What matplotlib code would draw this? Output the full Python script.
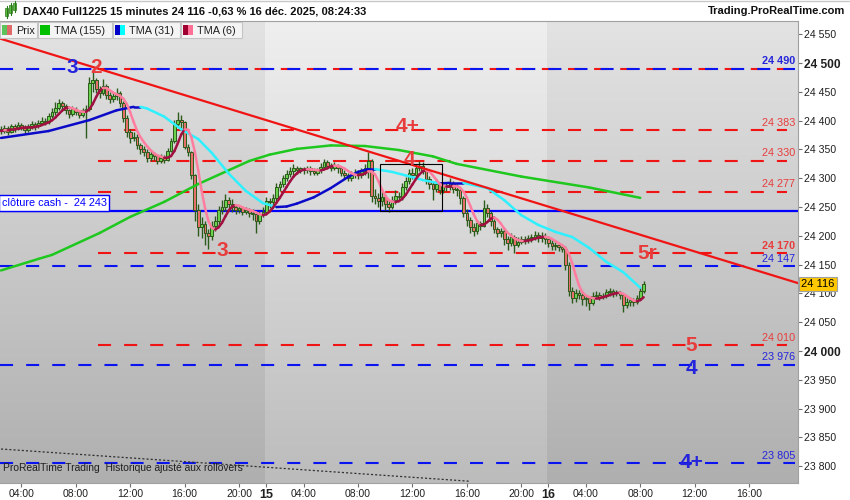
import numpy as np
import pandas as pd
import matplotlib
matplotlib.use("Agg")
import matplotlib.pyplot as plt
import matplotlib.transforms as mtransforms
from matplotlib.collections import LineCollection
from matplotlib.patches import Rectangle
from matplotlib.colors import LinearSegmentedColormap

plt.rcParams['font.family'] = ['Liberation Sans', 'DejaVu Sans']
plt.rcParams['lines.scale_dashes'] = False


""" Data """

# 15 minute bars, bar 0 = 12 dec 02:30
closes = [24382, 24388, 24380, 24390, 24386, 24392, 24388, 24384, 24390, 24394,
          24390, 24396, 24400, 24398, 24408, 24415, 24422, 24430, 24426, 24418,
          24412, 24420, 24415, 24410, 24418, 24420, 24465, 24470, 24455, 24448,
          24460, 24445, 24438, 24442, 24448, 24430, 24405, 24380, 24370, 24372,
          24358, 24350, 24345, 24335, 24342, 24338, 24330, 24336, 24332, 24348,
          24365, 24395, 24402, 24398, 24355, 24345, 24305, 24245, 24215, 24220,
          24205, 24200, 24218, 24225, 24245, 24250, 24262, 24255, 24250, 24245,
          24248, 24242, 24245, 24240, 24238, 24225, 24238, 24242, 24260, 24258,
          24265, 24285, 24290, 24300, 24308, 24312, 24318, 24315, 24316, 24314,
          24318, 24312, 24310, 24314, 24320, 24328, 24322, 24318, 24322, 24318,
          24310, 24305, 24300, 24306, 24310, 24305, 24312, 24318, 24330, 24270,
          24265, 24260, 24268, 24255, 24250, 24262, 24270, 24268, 24285, 24295,
          24310, 24305, 24318, 24322, 24315, 24298, 24290, 24282, 24290, 24280,
          24288, 24285, 24292, 24282, 24280, 24265, 24240, 24228, 24215, 24208,
          24222, 24218, 24248, 24240, 24225, 24212, 24205, 24208, 24195, 24188,
          24198, 24185, 24190, 24195, 24192, 24196, 24198, 24202, 24196, 24200,
          24195, 24188, 24182, 24184, 24180, 24178, 24150, 24105, 24092, 24100,
          24098, 24090, 24092, 24084, 24095, 24098, 24094, 24096, 24102, 24104,
          24100, 24102, 24098, 24080, 24085, 24088, 24086, 24092, 24105, 24116]
highs = [24390, 24392, 24391, 24395, 24394, 24398, 24396, 24392, 24394, 24400,
         24398, 24402, 24406, 24405, 24414, 24422, 24432, 24438, 24434, 24429,
         24421, 24425, 24424, 24418, 24422, 24428, 24475, 24485, 24474, 24460,
         24472, 24464, 24450, 24450, 24456, 24452, 24434, 24410, 24386, 24380,
         24376, 24362, 24356, 24350, 24348, 24346, 24342, 24342, 24340, 24352,
         24370, 24402, 24415, 24410, 24400, 24360, 24348, 24308, 24255, 24232,
         24226, 24212, 24226, 24234, 24252, 24262, 24272, 24268, 24264, 24256,
         24254, 24252, 24250, 24248, 24246, 24242, 24244, 24250, 24268, 24266,
         24272, 24292, 24296, 24306, 24314, 24320, 24325, 24322, 24320, 24320,
         24322, 24321, 24318, 24318, 24326, 24334, 24332, 24326, 24328, 24325,
         24320, 24314, 24310, 24312, 24316, 24314, 24318, 24324, 24345, 24334,
         24282, 24275, 24278, 24272, 24262, 24270, 24280, 24276, 24292, 24302,
         24316, 24318, 24325, 24330, 24328, 24318, 24304, 24295, 24298, 24294,
         24294, 24292, 24300, 24296, 24290, 24284, 24270, 24246, 24232, 24222,
         24228, 24226, 24262, 24256, 24244, 24230, 24216, 24214, 24212, 24200,
         24205, 24202, 24198, 24200, 24199, 24202, 24204, 24208, 24206, 24206,
         24205, 24200, 24192, 24190, 24188, 24185, 24182, 24155, 24112, 24108,
         24106, 24102, 24098, 24096, 24102, 24104, 24102, 24100, 24108, 24110,
         24108, 24106, 24104, 24100, 24092, 24094, 24092, 24098, 24112, 24122]
lows = [24376, 24378, 24375, 24378, 24381, 24383, 24384, 24376, 24380, 24386,
        24384, 24387, 24392, 24393, 24395, 24404, 24410, 24418, 24418, 24412,
        24405, 24408, 24410, 24404, 24406, 24370, 24416, 24450, 24448, 24440,
        24444, 24438, 24430, 24432, 24436, 24424, 24398, 24372, 24362, 24364,
        24350, 24342, 24338, 24328, 24330, 24332, 24325, 24326, 24326, 24330,
        24345, 24362, 24390, 24385, 24350, 24338, 24298, 24225, 24200, 24196,
        24185, 24178, 24192, 24208, 24218, 24238, 24244, 24246, 24242, 24238,
        24240, 24236, 24238, 24232, 24228, 24205, 24220, 24232, 24238, 24248,
        24250, 24260, 24278, 24284, 24295, 24302, 24306, 24308, 24310, 24308,
        24310, 24306, 24305, 24306, 24310, 24316, 24316, 24312, 24314, 24310,
        24304, 24298, 24295, 24296, 24300, 24298, 24300, 24306, 24300, 24258,
        24255, 24250, 24252, 24245, 24242, 24246, 24256, 24260, 24262, 24280,
        24290, 24298, 24300, 24312, 24308, 24290, 24282, 24262, 24276, 24272,
        24274, 24278, 24280, 24275, 24270, 24255, 24232, 24218, 24205, 24200,
        24204, 24210, 24215, 24232, 24218, 24205, 24198, 24198, 24184, 24176,
        24182, 24170, 24180, 24186, 24186, 24188, 24190, 24192, 24190, 24190,
        24186, 24180, 24176, 24176, 24174, 24172, 24140, 24095, 24084, 24086,
        24090, 24080, 24078, 24072, 24080, 24090, 24088, 24090, 24092, 24096,
        24094, 24095, 24090, 24068, 24074, 24078, 24078, 24082, 24088, 24100]
first_open = 24385

# moving averages (bar index, value)
tma155_bar = [0, 11, 15, 29, 38, 48, 58, 67, 73, 79, 87, 97, 107, 117, 127, 134, 153, 173, 188]
tma155_val = [24140, 24160, 24167, 24205, 24233, 24259, 24290, 24314, 24330, 24341,
              24351, 24357, 24356, 24349, 24338, 24325, 24303, 24284, 24266]
tma31_bar = [0, 14, 26, 34, 39, 41, 43, 48, 53, 58, 62, 67, 72, 77, 81, 84, 87, 92,
             97, 102, 105, 108, 110, 115, 119, 124, 129, 132, 136, 143, 148, 153,
             158, 163, 168, 173, 178, 183, 188]
tma31_val = [24370, 24382, 24401, 24418, 24424, 24424, 24421, 24407, 24385, 24368,
             24344, 24308, 24278, 24257, 24250, 24251, 24256, 24267, 24283, 24302,
             24311, 24316, 24316, 24311, 24305, 24297, 24291, 24292, 24292, 24283,
             24262, 24236, 24219, 24207, 24198, 24179, 24155, 24137, 24110]

red_levels = [24490, 24383, 24330, 24277, 24170, 24010]
red_labels = ["", "24 383", "24 330", "24 277", "24 170", "24 010"]
blue_levels = [24490, 24147, 23976, 23805]
blue_labels = ["24 490", "24 147", "23 976", "23 805"]
bold_labels = ["24 490", "24 170"]
cash_close = 24243
last_price = 24116

trend_bar = [0, 234.4]
trend_val = [24542, 24118]
dotted_bar = [0, 138]
dotted_val = [23830, 23774]
box_bar = [111.5, 129.7]
box_val = [24243, 24325]

wave_text = ["3", "2", "3", "4+", "4", "5r", "5", "4", "4+"]
wave_bar = [21, 28, 65, 119.5, 120, 190, 203, 203, 203]
wave_val = [24493, 24493, 24174, 24389, 24332, 24170, 24010, 23969, 23806]
wave_color = ["blue", "red", "red", "red", "red", "red", "red", "blue", "blue"]

y_ticks = [24550, 24500, 24450, 24400, 24350, 24300, 24250, 24200, 24150,
           24100, 24050, 24000, 23950, 23900, 23850, 23800]

# session 01:15-22:00 -> 83 bars a day, days 12, 15, 16 dec
day_names = ["", "15", "16"]
day_hours = [[4, 8, 12, 16, 20], [4, 8, 12, 16, 20], [4, 8, 12, 16]]


""" Helper Functions """

def bar_of(day, hour):
    return day * 83 + (hour - 1.25) * 4 - 5

def fmt(v):
    return f"{v // 1000} {v % 1000:03d}"

# draws a line whose colour depends on the direction of each segment.
def slope_line(ax, x, y, up, down, lw, z):
    pts = np.column_stack([x, y])
    segs = np.stack([pts[:-1], pts[1:]], axis=1)
    cols = [up if b >= a else down for a, b in zip(y[:-1], y[1:])]
    ax.add_collection(LineCollection(segs, colors=cols, linewidths=lw,
                                     capstyle="round", joinstyle="round", zorder=z))


""" Plot """

RED = "#f01414"
BLUE = "#0a14f0"
LBL_RED = "#e83c3c"
LBL_BLUE = "#2424dc"

fig = plt.figure(figsize=(8.5, 5), dpi=100)
fig.patch.set_facecolor("white")
ax = fig.add_axes([0, 17 / 500, 798 / 850, 462 / 500])

x_lo, x_hi = -0.3, 234.4
y_lo, y_hi = 23771, 24573

# background: one gradient per trading day
day_edges = [x_lo, 77.5, 160.5, x_hi]
day_tops = ["#e3e3e3", "#efefef", "#e3e3e3"]
day_bottoms = ["#afafaf", "#bcbcbc", "#afafaf"]
grad = np.linspace(0, 1, 256).reshape(-1, 1)
for i in range(3):
    cmap = LinearSegmentedColormap.from_list("g", [day_tops[i], day_bottoms[i]])
    ax.imshow(grad, cmap=cmap, aspect="auto", origin="upper", zorder=0,
              extent=[day_edges[i], day_edges[i + 1], y_lo, y_hi])

# horizontal levels
for lvl in red_levels:
    ax.plot([28.5, 231.2], [lvl, lvl], color=RED, lw=1.5, dashes=(9.4, 9.4), zorder=2)
for lvl in blue_levels:
    ax.plot([x_lo, 233.5], [lvl, lvl], color=BLUE, lw=1.5, dashes=(9.4, 9.4), zorder=2.1)
ax.axhline(cash_close, color="#0000ff", lw=1.6, zorder=2.2)

# candles
c = np.array(closes)
o = np.array([first_open] + closes[:-1])
idx = np.arange(len(c))
up = c >= o
wick = "#2b5a1a"
ax.vlines(idx, lows, highs, color=wick, lw=1.0, zorder=4)
ax.bar(idx, np.maximum(np.abs(c - o), 2), bottom=np.minimum(o, c), width=0.78,
       color=np.where(up, "#6ad24e", "#e8706c"), edgecolor=wick, linewidth=0.7, zorder=5)

# moving averages
slope_line(ax, tma155_bar, tma155_val, "#1ec81e", "#1ec81e", 1.8, 6)
slope_line(ax, tma31_bar, tma31_val, "#0a0ac8", "#2ef0ff", 1.8, 6.1)
tma6 = pd.Series(closes).rolling(4, min_periods=1).mean().rolling(3, min_periods=1).mean()
slope_line(ax, idx, tma6.values, "#a01040", "#ff7ea0", 1.8, 6.2)

# drawings
ax.plot(trend_bar, trend_val, color=RED, lw=1.6, zorder=7)
ax.plot(dotted_bar, dotted_val, color="#303030", lw=0.9, dashes=(1.5, 1.5), zorder=7)
ax.add_patch(Rectangle((box_bar[0], box_val[0]), box_bar[1] - box_bar[0], box_val[1] - box_val[0],
                       fill=False, ec="black", lw=0.8, zorder=7))

for t, bx, v, col in zip(wave_text, wave_bar, wave_val, wave_color):
    ax.text(bx, v, t, color=LBL_RED if col == "red" else LBL_BLUE, fontsize=15,
            fontweight="bold", ha="center", va="center", zorder=8)

# labels of the levels at the right
for lvl, lab in zip(red_levels, red_labels):
    if lab:
        ax.text(233.6, lvl + 8, lab, color=LBL_RED, fontsize=7.8, ha="right", va="baseline",
                fontweight="bold" if lab in bold_labels else "normal", zorder=8)
for lvl, lab in zip(blue_levels, blue_labels):
    ax.text(233.6, lvl + 8, lab, color=LBL_BLUE, fontsize=7.8, ha="right", va="baseline",
            fontweight="bold" if lab in bold_labels else "normal", zorder=8)

ax.text(0.2, cash_close + 14, "clôture cash -  " + fmt(cash_close), color="#0000ff", fontsize=7.8,
        ha="left", va="center", zorder=9,
        bbox=dict(boxstyle="square,pad=0.25", fc="white", ec="#0000ff", lw=1.0))

ax.text(0.6, 23797, "ProRealTime Trading  Historique ajusté aux rollovers", color="#202020",
        fontsize=7.4, ha="left", va="center", zorder=9)

# axes
ax.set_xlim(x_lo, x_hi)
ax.set_ylim(y_lo, y_hi)
ax.spines["left"].set_visible(False)
for side in ["right", "bottom", "top"]:
    ax.spines[side].set_color("#a0a0a0")
    ax.spines[side].set_linewidth(0.8)

ax.yaxis.tick_right()
ax.set_yticks(y_ticks)
ax.set_yticklabels([fmt(v) for v in y_ticks])
ax.tick_params(axis="y", direction="out", length=3, pad=1.5, color="#707070",
               labelsize=7.6, labelcolor="#202020")
for lab, v in zip(ax.get_yticklabels(), y_ticks):
    if v % 500 == 0:
        lab.set_fontweight("bold")
        lab.set_fontsize(8.6)

x_pos, x_lab = [], []
for d in range(3):
    if day_names[d]:
        x_pos.append(bar_of(d, 1.25))
        x_lab.append(day_names[d])
    for h in day_hours[d]:
        x_pos.append(bar_of(d, h))
        x_lab.append(f"{h:02d}:00")
ax.set_xticks(x_pos)
ax.set_xticklabels(x_lab)
ax.tick_params(axis="x", direction="out", length=3, pad=1.5, color="#707070",
               labelsize=7.5, labelcolor="#202020")
for lab in ax.get_xticklabels():
    if ":" not in lab.get_text():
        lab.set_fontweight("bold")
        lab.set_fontsize(9)

blend = mtransforms.blended_transform_factory(ax.transAxes, ax.transData)
ax.text(1.004, last_price, fmt(last_price), transform=blend, color="black", fontsize=8,
        ha="left", va="center", clip_on=False, zorder=10,
        bbox=dict(boxstyle="square,pad=0.2", fc="#ffc800", ec="#a0a0a0", lw=0.8))

# header and legend, in pixels
ov = fig.add_axes([0, 0, 1, 1], zorder=10)
ov.set_xlim(0, 850)
ov.set_ylim(500, 0)
ov.axis("off")
ov.patch.set_alpha(0)

ov.plot([0, 850], [0.5, 0.5], color="#c8c8c8", lw=1)
for cx, top, bot in [(7, 8, 16), (11, 5, 13), (15, 3, 10)]:
    ov.plot([cx, cx], [top - 2, bot + 2], color="#2b7a1a", lw=0.8)
    ov.add_patch(Rectangle((cx - 1.5, top), 3, bot - top, fc="#5cc040", ec="#2b7a1a", lw=0.5))
ov.text(23, 11, "DAX40 Full1225 15 minutes 24 116 -0,63 % 16 déc. 2025, 08:24:33",
        fontsize=8, fontweight="bold", color="#101010", ha="left", va="center")
ov.text(845, 11, "Trading.ProRealTime.com", fontsize=8, fontweight="bold", color="#101010",
        ha="right", va="center")

legend = [(0, 37, "Prix", ["#5cc35c", "#e06a6a"]),
          (38, 112, "TMA (155)", ["#00c000"]),
          (113, 180, "TMA (31)", ["#0000c8", "#00ffff"]),
          (181, 242, "TMA (6)", ["#a00030", "#ff6f96"])]
for x0, x1, name, cols in legend:
    ov.add_patch(Rectangle((x0, 22), x1 - x0, 16, fc="#f4f4f4", ec="#c4c4c4", lw=0.8))
    w = 10 / len(cols)
    for j, col in enumerate(cols):
        ov.add_patch(Rectangle((x0 + 2.5 + j * w, 25), w, 10, fc=col, ec="none"))
    ov.text(x0 + 16, 30.5, name, fontsize=7.8, color="#202020", ha="left", va="center")

fig.savefig("out.png", dpi=100)
plt.close(fig)
